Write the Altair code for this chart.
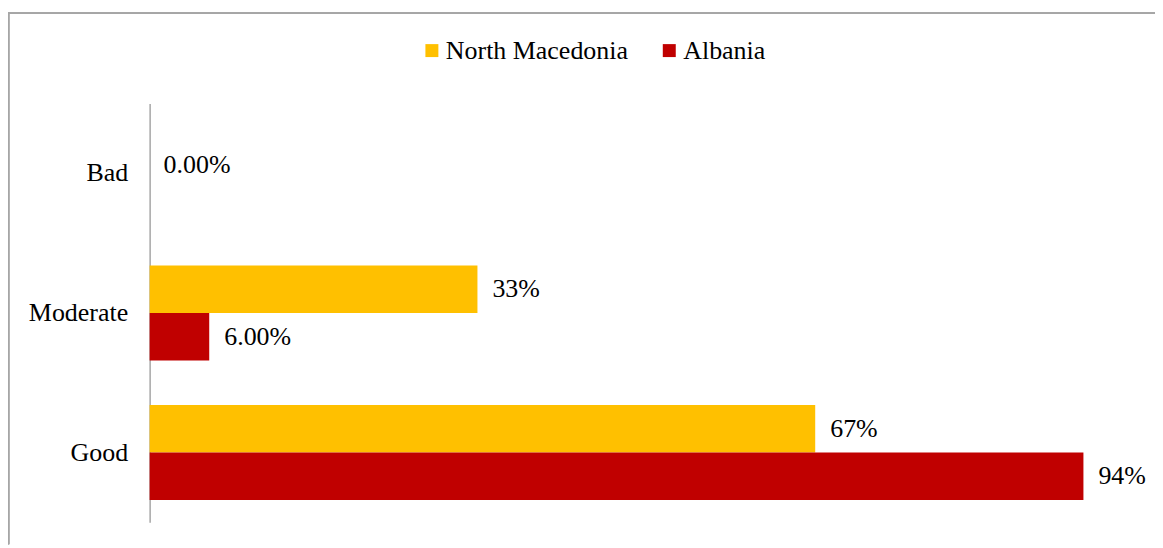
import altair as alt
import pandas as pd

categories = ["Bad", "Moderate", "Good"]
series = ["North Macedonia", "Albania"]
north_macedonia = [None, 0.33, 0.67]
albania = [0.00, 0.06, 0.94]
north_macedonia_labels = ["", "33%", "67%"]
albania_labels = ["0.00%", "6.00%", "94%"]
colors = ["#FFC000", "#C00000"]

rows = []
for i, c in enumerate(categories):
    rows.append(dict(category=c, series=series[0], value=north_macedonia[i], label=north_macedonia_labels[i]))
    rows.append(dict(category=c, series=series[1], value=albania[i], label=albania_labels[i]))
df = pd.DataFrame(rows)

FONT = "Liberation Serif"
FS = 26
W, H = 1150, 533

x_enc = alt.X("value:Q", axis=None, scale=alt.Scale(domain=[0, 1], range=[142, 1138], nice=False, zero=True))
y_enc = alt.Y(
    "category:N",
    sort=categories,
    title=None,
    scale=alt.Scale(domain=categories, range=[91, 511], paddingInner=0.32, paddingOuter=0.16),
    axis=alt.Axis(
        orient="left", offset=-142, domainColor="#A6A6A6", domainWidth=1.5,
        ticks=False, tickSize=0, grid=False, labelPadding=22,
        labelFont=FONT, labelFontSize=FS, labelColor="black",
    ),
)
yoff_enc = alt.YOffset("series:N", sort=series, scale=alt.Scale(domain=series, paddingInner=0, paddingOuter=0))
color_enc = alt.Color(
    "series:N",
    sort=series,
    scale=alt.Scale(domain=series, range=colors),
    legend=alt.Legend(
        title=None, orient="none", legendX=412, legendY=25, direction="horizontal",
        symbolType="square", symbolSize=169, symbolStrokeWidth=0, padding=0,
        labelFont=FONT, labelFontSize=FS, labelColor="black", labelOffset=1,
        labelLimit=400, columnPadding=28, symbolOffset=0,
    ),
)

bars = alt.Chart(df).mark_bar(cornerRadius=0).encode(
    x=x_enc, y=y_enc, yOffset=yoff_enc, color=color_enc
)

text_main = alt.Chart(df).transform_filter(
    (alt.datum.category != "Bad") & (alt.datum.label != "")
).mark_text(align="left", baseline="middle", dx=15, font=FONT, fontSize=FS, color="black").encode(
    x=alt.X("value:Q"), y=alt.Y("category:N", sort=categories), yOffset=alt.YOffset("series:N", sort=series), text="label:N"
)

text_bad = alt.Chart(df).transform_filter(
    (alt.datum.category == "Bad") & (alt.datum.label != "")
).mark_text(align="left", baseline="middle", dx=14, dy=-8, font=FONT, fontSize=FS, color="black").encode(
    x=alt.X("value:Q"), y=alt.Y("category:N", sort=categories), text="label:N"
)

# chart frame (top and left edges of the outer border)
frame_top = alt.Chart(df).mark_rule(color="#A6A6A6", strokeWidth=1.5).encode(
    x=alt.value(0), x2=alt.value(W), y=alt.value(0.5)
)
frame_left = alt.Chart(df).mark_rule(color="#A6A6A6", strokeWidth=1.5).encode(
    x=alt.value(0.5), y=alt.value(0), y2=alt.value(H)
)

chart = alt.layer(frame_top, frame_left, bars, text_main, text_bad).properties(
    width=W, height=H,
    background="white",
    padding={"left": 0, "top": 4, "right": 0, "bottom": 0},
    autosize=alt.AutoSizeParams(type="none"),
).configure_view(stroke="transparent", strokeWidth=0)

chart.save("out.html", embed_options={"renderer": "svg", "actions": False})
